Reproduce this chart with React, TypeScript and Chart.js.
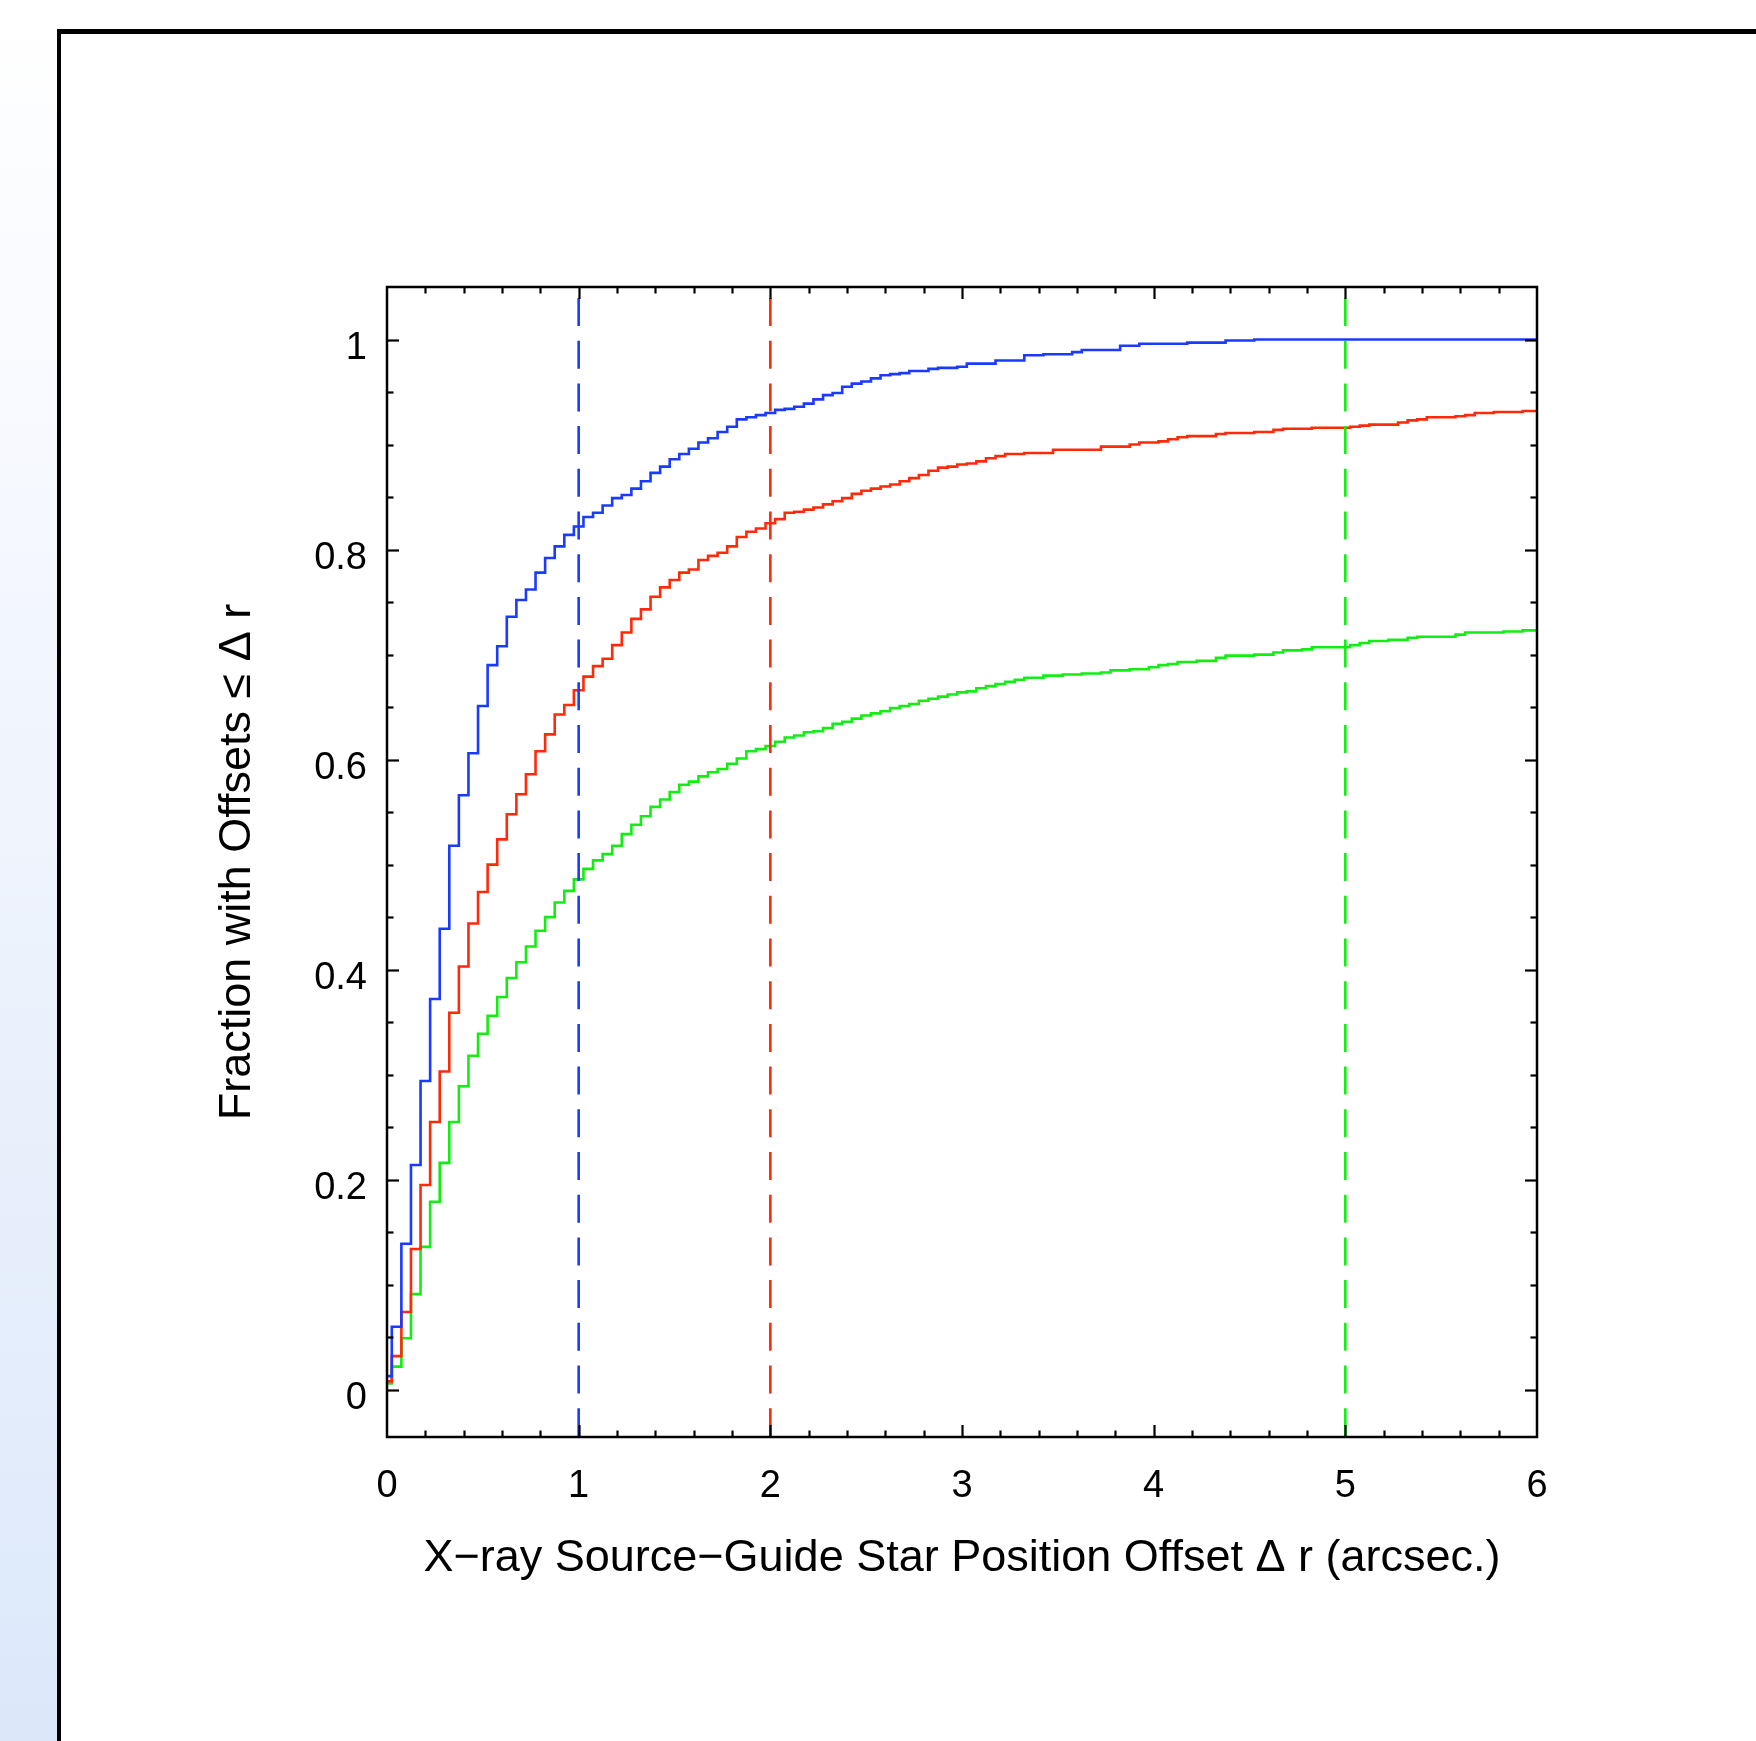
import React, { useEffect, useRef } from "react";
import { Chart, registerables } from "chart.js";

Chart.register(...registerables);

// ---- data ----
// cumulative fractions, one value per 0.05-arcsec histogram bin (0.00 .. 6.00)
const BIN_WIDTH = 0.05;

const BLUE_CDF = [
  0.013, 0.060, 0.139, 0.214, 0.294, 0.372, 0.439, 0.518, 0.566, 0.606,
  0.651, 0.690, 0.708, 0.736, 0.752, 0.762, 0.778, 0.792, 0.803, 0.814,
  0.822, 0.831, 0.835, 0.842, 0.849, 0.852, 0.858, 0.865, 0.873, 0.879,
  0.886, 0.891, 0.896, 0.902, 0.906, 0.912, 0.917, 0.924, 0.926, 0.928,
  0.930, 0.933, 0.934, 0.936, 0.939, 0.943, 0.947, 0.949, 0.955, 0.958,
  0.960, 0.963, 0.966, 0.967, 0.968, 0.970, 0.970, 0.972, 0.973, 0.973,
  0.974, 0.977, 0.977, 0.977, 0.980, 0.980, 0.980, 0.985, 0.985, 0.986,
  0.986, 0.986, 0.988, 0.990, 0.990, 0.990, 0.990, 0.994, 0.994, 0.996,
  0.996, 0.996, 0.996, 0.996, 0.997, 0.997, 0.997, 0.997, 0.999, 0.999,
  0.999, 1.000, 1.000, 1.000, 1.000, 1.000, 1.000, 1.000, 1.000, 1.000,
  1.000, 1.000, 1.000, 1.000, 1.000, 1.000, 1.000, 1.000, 1.000, 1.000,
  1.000, 1.000, 1.000, 1.000, 1.000, 1.000, 1.000, 1.000, 1.000, 1.000,
  1.000,
];

const RED_CDF = [
  0.008, 0.032, 0.074, 0.134, 0.195, 0.255, 0.303, 0.359, 0.403, 0.444,
  0.474, 0.500, 0.524, 0.548, 0.567, 0.586, 0.608, 0.624, 0.643, 0.652,
  0.666, 0.679, 0.689, 0.696, 0.709, 0.721, 0.734, 0.743, 0.755, 0.764,
  0.771, 0.778, 0.781, 0.790, 0.794, 0.797, 0.803, 0.812, 0.817, 0.820,
  0.825, 0.829, 0.835, 0.836, 0.838, 0.840, 0.843, 0.846, 0.849, 0.853,
  0.856, 0.858, 0.860, 0.862, 0.865, 0.868, 0.871, 0.875, 0.878, 0.879,
  0.881, 0.882, 0.884, 0.887, 0.889, 0.891, 0.891, 0.892, 0.892, 0.892,
  0.895, 0.895, 0.895, 0.895, 0.895, 0.898, 0.898, 0.898, 0.900, 0.902,
  0.902, 0.903, 0.905, 0.907, 0.908, 0.908, 0.908, 0.910, 0.911, 0.911,
  0.911, 0.912, 0.912, 0.914, 0.915, 0.915, 0.915, 0.916, 0.916, 0.916,
  0.916, 0.917, 0.918, 0.919, 0.919, 0.919, 0.921, 0.923, 0.924, 0.926,
  0.926, 0.926, 0.927, 0.928, 0.930, 0.930, 0.931, 0.931, 0.931, 0.932,
  0.932,
];

const GREEN_CDF = [
  0.006, 0.022, 0.049, 0.091, 0.136, 0.179, 0.216, 0.255, 0.289, 0.318,
  0.339, 0.356, 0.374, 0.392, 0.407, 0.422, 0.437, 0.450, 0.464, 0.475,
  0.486, 0.496, 0.504, 0.510, 0.518, 0.529, 0.538, 0.546, 0.555, 0.562,
  0.569, 0.576, 0.579, 0.584, 0.588, 0.591, 0.596, 0.601, 0.608, 0.610,
  0.613, 0.617, 0.621, 0.623, 0.626, 0.627, 0.630, 0.634, 0.636, 0.639,
  0.642, 0.644, 0.646, 0.649, 0.651, 0.653, 0.656, 0.658, 0.660, 0.662,
  0.664, 0.665, 0.668, 0.670, 0.672, 0.674, 0.676, 0.678, 0.678, 0.680,
  0.680, 0.681, 0.681, 0.682, 0.682, 0.683, 0.685, 0.685, 0.686, 0.686,
  0.688, 0.690, 0.691, 0.693, 0.693, 0.694, 0.694, 0.697, 0.699, 0.699,
  0.699, 0.700, 0.700, 0.702, 0.704, 0.704, 0.705, 0.707, 0.707, 0.707,
  0.707, 0.709, 0.711, 0.713, 0.713, 0.714, 0.714, 0.716, 0.717, 0.717,
  0.717, 0.717, 0.719, 0.721, 0.721, 0.721, 0.721, 0.722, 0.722, 0.723,
  0.723,
];

// offset limits (arcsec) marked with dashed lines: blue, red, green
const THRESHOLDS = [1, 2, 5];

const X_TICKS = [0, 1, 2, 3, 4, 5, 6];
const Y_TICKS = [0, 0.2, 0.4, 0.6, 0.8, 1];
const X_MINOR_STEP = 0.2;
const Y_MINOR_STEP = 0.05;
const X_MIN = 0;
const X_MAX = 6;
const Y_MIN = -0.045;
const Y_MAX = 1.05;

const X_TITLE = "X\u2212ray Source\u2212Guide Star Position Offset \u0394 r (arcsec.)";
const Y_TITLE = "Fraction with Offsets \u2264 \u0394 r";

const SERIES_COLORS = ["#1a3aff", "#ff2a0a", "#12ee12"];

const FONT_FAMILY = "'Liberation Sans', Arial, Helvetica, sans-serif";

// ---- plugin: box frame + inward ticks on all four sides ----
const frameTicks = {
  id: "frameTicks",
  afterDatasetsDraw(chart: any) {
    const { ctx, chartArea: a, scales } = chart;
    const xs = scales.x;
    const ys = scales.y;
    ctx.save();
    ctx.strokeStyle = "#000";
    ctx.lineCap = "butt";
    const seg = (x1: number, y1: number, x2: number, y2: number) => {
      ctx.beginPath();
      ctx.moveTo(x1, y1);
      ctx.lineTo(x2, y2);
      ctx.stroke();
    };
    ctx.lineWidth = 2.2;
    const nx = Math.round((X_MAX - X_MIN) / X_MINOR_STEP);
    for (let i = 1; i < nx; i++) {
      const v = X_MIN + i * X_MINOR_STEP;
      const major = X_TICKS.some((t) => Math.abs(t - v) < 1e-6);
      const len = major ? 12 : 6.5;
      const px = Math.round(xs.getPixelForValue(v)) + 0.5;
      seg(px, a.bottom, px, a.bottom - len);
      seg(px, a.top, px, a.top + len);
    }
    const ny0 = Math.ceil(Y_MIN / Y_MINOR_STEP - 1e-6);
    const ny1 = Math.floor(Y_MAX / Y_MINOR_STEP + 1e-6);
    for (let i = ny0; i <= ny1; i++) {
      const v = i * Y_MINOR_STEP;
      if (v <= Y_MIN || v >= Y_MAX - 1e-6) continue;
      const major = Y_TICKS.some((t) => Math.abs(t - v) < 1e-6);
      const len = major ? 12 : 6.5;
      const py = Math.round(ys.getPixelForValue(v)) + 0.5;
      seg(a.left, py, a.left + len, py);
      seg(a.right, py, a.right - len, py);
    }
    ctx.lineWidth = 2.5;
    ctx.strokeRect(a.left, a.top, a.right - a.left, a.bottom - a.top);
    ctx.restore();
  },
};

export default function App() {
  const ref = useRef<HTMLCanvasElement | null>(null);

  useEffect(() => {
    if (!ref.current) return;
    const toPoints = (vals: number[]) =>
      vals.map((y, i) => ({ x: i * BIN_WIDTH, y }));
    const curves = [BLUE_CDF, RED_CDF, GREEN_CDF].map((vals, k) => ({
      data: toPoints(vals),
      borderColor: SERIES_COLORS[k],
      borderWidth: 2.6,
      stepped: "middle" as const,
      pointRadius: 0,
      fill: false,
    }));
    const limits = THRESHOLDS.map((t, k) => ({
      data: [
        { x: t, y: Y_MAX },
        { x: t, y: Y_MIN },
      ],
      borderColor: SERIES_COLORS[k],
      borderWidth: 2.6,
      borderDash: [28, 14.7],
      borderDashOffset: 31.7,
      pointRadius: 0,
      fill: false,
    }));

    const chart = new Chart(ref.current, {
      type: "line",
      data: { datasets: [...limits, ...curves] as any },
      options: {
        responsive: false,
        animation: false,
        events: [],
        layout: { padding: { left: 0, top: 287, right: 219, bottom: 0 } },
        plugins: {
          legend: { display: false },
          tooltip: { enabled: false },
        },
        scales: {
          x: {
            type: "linear",
            min: X_MIN,
            max: X_MAX,
            afterBuildTicks: (s: any) => {
              s.ticks = X_TICKS.map((v) => ({ value: v }));
            },
            afterFit: (s: any) => {
              s.height = 304;
            },
            grid: { display: false, drawTicks: false },
            border: { display: false },
            ticks: {
              padding: 27,
              color: "#000",
              maxRotation: 0,
              autoSkip: false,
              font: { family: FONT_FAMILY, size: 38 },
              callback: (v: any) => String(v),
            },
            title: {
              display: true,
              text: X_TITLE,
              color: "#000",
              font: { family: FONT_FAMILY, size: 45 },
              padding: { top: 0, bottom: 155 },
            },
          },
          y: {
            type: "linear",
            min: Y_MIN,
            max: Y_MAX,
            afterBuildTicks: (s: any) => {
              s.ticks = Y_TICKS.map((v) => ({ value: v }));
            },
            afterFit: (s: any) => {
              s.width = 387;
            },
            grid: { display: false, drawTicks: false },
            border: { display: false },
            ticks: {
              padding: 20,
              labelOffset: 9,
              color: "#000",
              autoSkip: false,
              font: { family: FONT_FAMILY, size: 38 },
              callback: (v: any) => String(v),
            },
            title: {
              display: true,
              text: Y_TITLE,
              color: "#000",
              font: { family: FONT_FAMILY, size: 45 },
              padding: { top: 211, bottom: 0 },
            },
          },
        },
      },
      plugins: [frameTicks],
    });
    return () => chart.destroy();
  }, []);

  return (
    <div
      style={{
        position: "absolute",
        left: 0,
        top: 0,
        width: 1756,
        height: 1741,
        overflow: "hidden",
        background:
          "linear-gradient(to bottom, #ffffff 0%, #f7f9fe 25%, #eaf1fc 60%, #dce8fa 100%)",
      }}
    >
      <div
        style={{
          position: "absolute",
          left: 57,
          top: 29,
          right: 0,
          bottom: 0,
          background: "#ffffff",
          borderLeft: "4px solid #000",
          borderTop: "5px solid #000",
        }}
      />
      <canvas
        ref={ref}
        width={1756}
        height={1741}
        style={{ position: "absolute", left: 0, top: 0, width: 1756, height: 1741 }}
      />
    </div>
  );
}
